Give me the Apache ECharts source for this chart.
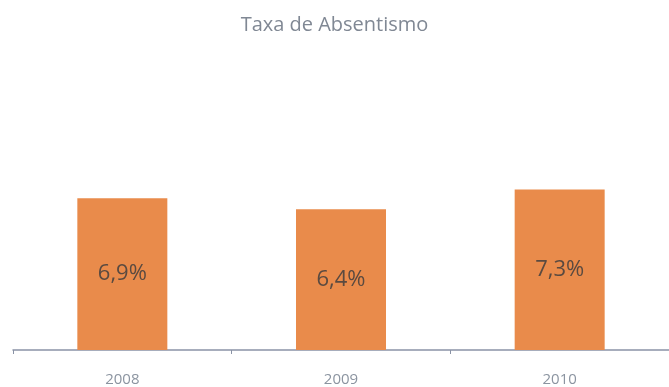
<!DOCTYPE html>
<html>
<head>
<meta charset="utf-8">
<script src="https://cdn.jsdelivr.net/npm/echarts@6/dist/echarts.min.js"></script>
<style>
  html, body { margin: 0; padding: 0; background: #ffffff; }
  #chart { width: 669px; height: 387px; }
</style>
</head>
<body>
<div id="chart"></div>
<script>
// Absenteeism rate per year (percent)
const years = ['2008', '2009', '2010'];
const rates = [6.9, 6.4, 7.3];
const chartTitle = 'Taxa de Absentismo';

const chart = echarts.init(document.getElementById('chart'), null, { renderer: 'canvas' });

chart.setOption({
  backgroundColor: '#ffffff',
  animation: false,
  title: {
    text: chartTitle,
    left: 'center',
    top: 10,
    textStyle: {
      fontFamily: 'Open Sans',
      fontSize: 20,
      fontWeight: 'normal',
      color: '#808894'
    }
  },
  grid: { left: 13, right: -4, top: 130, bottom: 37 },
  xAxis: {
    type: 'category',
    data: years,
    axisLine: { lineStyle: { color: '#8a93a6', width: 1.5 } },
    axisTick: { show: true, length: 4, lineStyle: { color: '#8a93a6' } },
    axisLabel: {
      margin: 22,
      fontFamily: 'Open Sans',
      fontSize: 15,
      color: '#8b94a0'
    }
  },
  yAxis: {
    type: 'value',
    min: 0,
    max: 10,
    show: false,
    splitLine: { show: false }
  },
  series: [{
    type: 'bar',
    data: rates,
    barWidth: 90,
    itemStyle: { color: '#E98B4B' },
    label: {
      show: true,
      position: 'inside',
      formatter: p => p.value.toFixed(1).replace('.', ',') + '%',
      fontFamily: 'Open Sans',
      fontSize: 22,
      fontWeight: 500,
      color: '#5a4a40'
    }
  }]
});
</script>
</body>
</html>
